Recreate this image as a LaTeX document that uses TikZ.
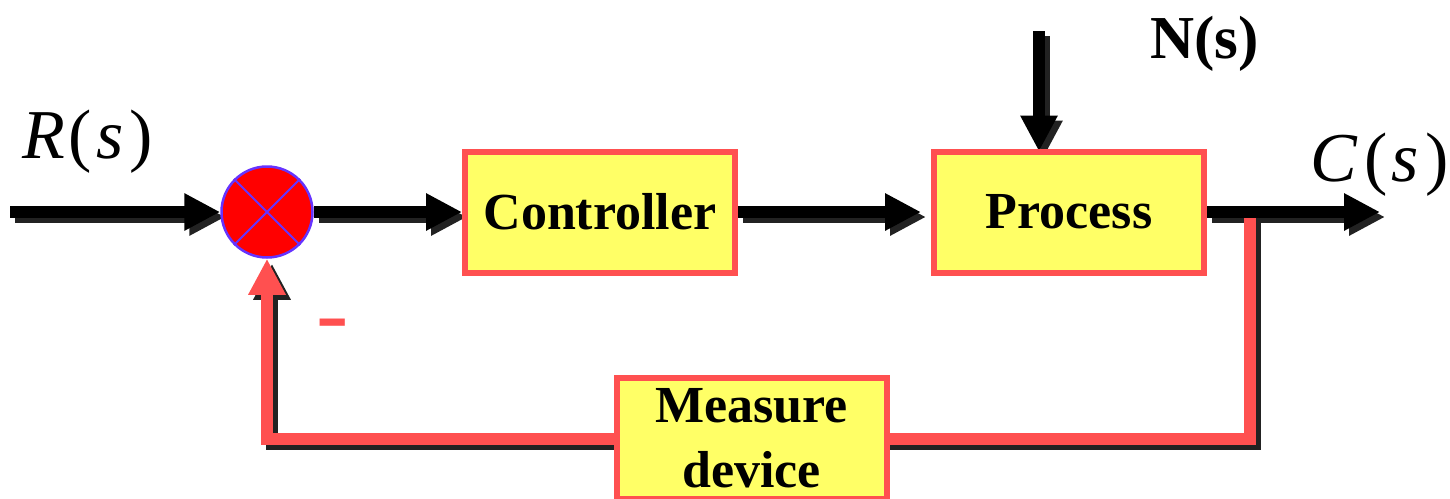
\documentclass[tikz,border=0pt]{standalone}
\usepackage{fontspec}
\setmainfont{Liberation Serif}
\usetikzlibrary{arrows.meta,backgrounds}
\definecolor{boxred}{HTML}{FF5050}
\definecolor{boxyellow}{HTML}{FFFF66}
\definecolor{sumred}{HTML}{FF0000}
\definecolor{sumblue}{HTML}{6633FF}
\definecolor{shadowgray}{HTML}{222222}
\begin{document}
\begin{tikzpicture}[x=1pt,y=-1pt,
  sig/.style={line width=12pt, -{Triangle[length=36pt,width=35pt]}},
  blk/.style={sig, draw=black},
  redsig/.style={sig, draw=boxred, line join=miter},
  shd/.style={sig, draw=shadowgray, line join=miter, transform canvas={xshift=5pt,yshift=-5pt}},
  block/.style={draw=boxred, fill=boxyellow, line width=6pt, minimum width=270pt,
    minimum height=121pt, inner sep=0pt, font=\fontsize{52}{65}\selectfont\bfseries},
  sumjunc/.style={circle, draw=sumblue, fill=sumred, line width=2.5pt, minimum size=91pt, inner sep=0pt},
  lbl/.style={anchor=base west, inner sep=0pt}
]
\useasboundingbox (0,0) rectangle (1450,498);
\clip (0,0) rectangle (1450,498);

% nodes
\node[sumjunc] (sum) at (267,212) {};
\draw[sumblue, line width=2pt] (sum.45) -- (sum.225) (sum.135) -- (sum.315);
\node[block] (ctrl) at (600,212) {Controller};
\node[block] (proc) at (1069,212) {Process};
\node[block, align=center] (meas) at (751.5,438.5) {Measure\\device};

\node[lbl, font=\fontsize{70}{80}\selectfont] (rlab) at (22,158) {\textit{R}\kern4pt(\kern4pt\textit{s}\kern6pt)};
\node[lbl, font=\fontsize{70}{80}\selectfont] (clab) at (1310,181) {\textit{C}\kern7pt(\kern4pt\textit{s}\kern6pt)};
\node[lbl, font=\fontsize{61}{70}\selectfont\bfseries] (nlab) at (1150,58) {N(s)};
\node[lbl, text=boxred, font=\fontsize{97}{100}\selectfont] (minus) at (316,345) {-};

\coordinate (rin) at (10,212);
\coordinate (cout) at (1380,212);
\coordinate (ntop) at (1039,31);
\coordinate (tap) at (1250,212);
\coordinate (fbr) at (1250,439);
\coordinate (fbl) at (267,439);

\begin{scope}[on background layer]
  % shadows
  \draw[shd] (tap) -- (fbr) -- (fbl) -- (sum.south);
  \draw[shd] (rin) -- (sum.west);
  \draw[shd] (sum.east) -- (ctrl.west);
  \draw[shd, shorten >=10pt] (ctrl.east) -- (proc.west);
  \draw[shd] (proc.east) -- (cout);
  \draw[shd, shorten >=-3pt] (ntop) -- (ntop |- proc.north);
  % feedback
  \draw[redsig] (tap) -- (fbr) -- (fbl) -- (sum.south);
  % forward signals
  \draw[blk] (rin) -- (sum.west);
  \draw[blk] (sum.east) -- (ctrl.west);
  \draw[blk, shorten >=10pt] (ctrl.east) -- (proc.west);
  \draw[blk] (proc.east) -- (cout);
  \draw[blk, shorten >=-3pt] (ntop) -- (ntop |- proc.north);
\end{scope}
\end{tikzpicture}
\end{document}
